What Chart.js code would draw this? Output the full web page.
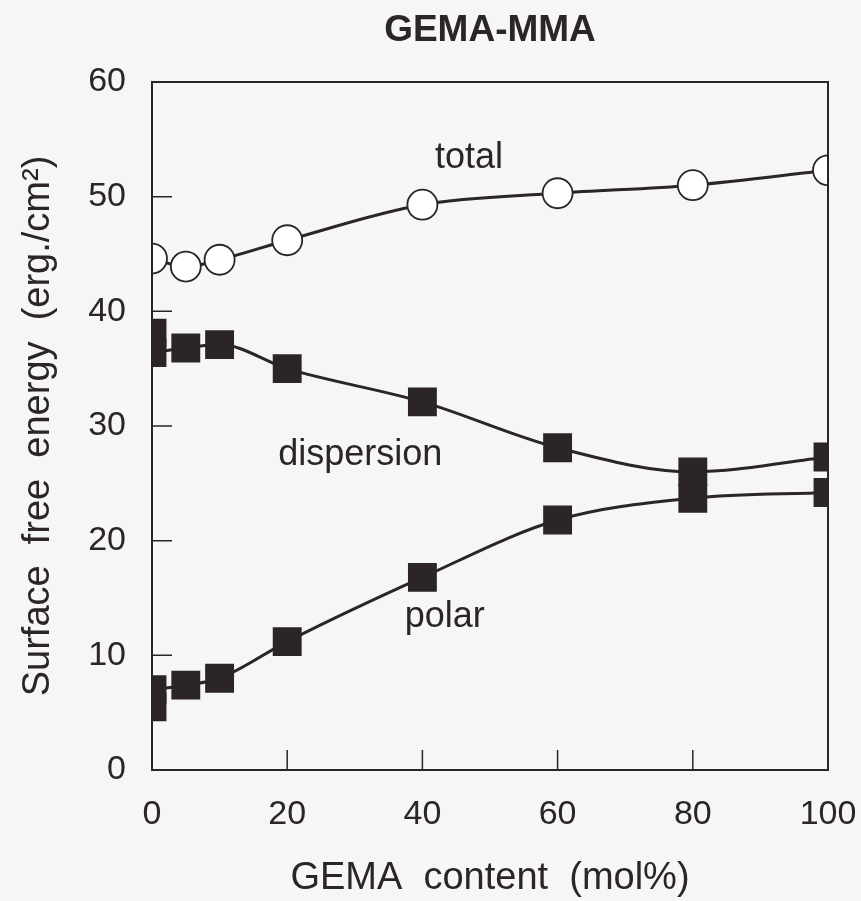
<!DOCTYPE html>
<html>
<head>
<meta charset="utf-8">
<script src="https://cdn.jsdelivr.net/npm/chart.js@4/dist/chart.umd.min.js"></script>
<style>
  html, body { margin: 0; padding: 0; background: #f6f5f7; }
  canvas { display: block; }
</style>
</head>
<body>
<canvas id="surfaceChart" width="861" height="901"></canvas>
<script>
// --- data ---
const gemaContent = [0, 5, 10, 20, 40, 60, 80, 100];
const totalEnergy = [44.6, 43.9, 44.5, 46.2, 49.3, 50.3, 51.0, 52.3];
const dispersionEnergy = [36.4, 36.8, 37.1, 35.0, 32.1, 28.1, 26.0, 27.3];
const polarEnergy = [7.0, 7.4, 8.0, 11.2, 16.8, 21.8, 23.7, 24.2];

// repeated measurements at 0 mol%
const extraX = [0];
const extraDispersion = [38.1];
const extraPolar = [5.5];

const xTicks = [0, 20, 40, 60, 80, 100];
const yTicks = [0, 10, 20, 30, 40, 50, 60];

const seriesLabels = ["total", "dispersion", "polar"];
const labelX = [46.9, 30.8, 43.3];
const labelY = [53.4, 27.5, 13.3];

const INK = "#2b2428";
const FONT = "'Liberation Sans', Arial, Helvetica, sans-serif";

const pts = (xs, ys) => xs.map((x, i) => ({ x, y: ys[i] }));

// === frame, inward ticks and curve labels ===
const framePlugin = {
  id: "frame",
  afterDatasetsDraw(chart) {
    const { ctx, chartArea: a, scales } = chart;
    ctx.save();
    ctx.strokeStyle = INK;
    ctx.lineWidth = 2;
    ctx.strokeRect(a.left, a.top, a.right - a.left, a.bottom - a.top);

    ctx.lineWidth = 1.5;
    ctx.beginPath();
    yTicks.slice(1, -1).forEach((v) => {
      const y = scales.y.getPixelForValue(v);
      ctx.moveTo(a.left, y);
      ctx.lineTo(a.left + 20, y);
    });
    xTicks.slice(1, -1).forEach((v) => {
      const x = scales.x.getPixelForValue(v);
      ctx.moveTo(x, a.bottom);
      ctx.lineTo(x, a.bottom - 20);
    });
    ctx.stroke();

    ctx.fillStyle = INK;
    ctx.font = "36px " + FONT;
    ctx.textAlign = "center";
    ctx.textBaseline = "middle";
    seriesLabels.forEach((t, i) => {
      ctx.fillText(t, scales.x.getPixelForValue(labelX[i]), scales.y.getPixelForValue(labelY[i]));
    });
    ctx.restore();
  },
};

const lineStyle = {
  borderColor: INK,
  borderWidth: 3,
  cubicInterpolationMode: "monotone",
  pointBorderColor: INK,
  pointBorderWidth: 2,
};

new Chart(document.getElementById("surfaceChart"), {
  type: "scatter",
  data: {
    datasets: [
      {
        ...lineStyle,
        label: "dispersion",
        data: pts(gemaContent, dispersionEnergy),
        showLine: true,
        pointStyle: "rect",
        pointRadius: 19,
        pointBackgroundColor: INK,
      },
      {
        ...lineStyle,
        label: "dispersion (repeat)",
        data: pts(extraX, extraDispersion),
        showLine: false,
        pointStyle: "rect",
        pointRadius: 19,
        pointBackgroundColor: INK,
      },
      {
        ...lineStyle,
        label: "polar",
        data: pts(gemaContent, polarEnergy),
        showLine: true,
        pointStyle: "rect",
        pointRadius: 19,
        pointBackgroundColor: INK,
      },
      {
        ...lineStyle,
        label: "polar (repeat)",
        data: pts(extraX, extraPolar),
        showLine: false,
        pointStyle: "rect",
        pointRadius: 19,
        pointBackgroundColor: INK,
      },
      {
        ...lineStyle,
        label: "total",
        data: pts(gemaContent, totalEnergy),
        showLine: true,
        pointStyle: "circle",
        pointRadius: 15,
        pointBorderWidth: 1.8,
        pointBackgroundColor: "#ffffff",
      },
    ],
  },
  options: {
    responsive: false,
    animation: false,
    layout: { padding: { top: 82, right: 33, bottom: 0, left: 0 } },
    plugins: {
      legend: { display: false },
      tooltip: { enabled: false },
      title: { display: false },
    },
    scales: {
      x: {
        type: "linear",
        min: 0,
        max: 100,
        afterFit: (s) => { s.height = 131; s.paddingLeft = 0; s.paddingRight = 0; },
        afterBuildTicks: (s) => { s.ticks = xTicks.map((v) => ({ value: v })); },
        grid: { display: false },
        border: { display: false },
        ticks: { color: INK, padding: 16, maxRotation: 0, font: { family: FONT, size: 34 } },
        title: {
          display: true,
          text: "GEMA  content  (mol%)",
          color: INK,
          font: { family: FONT, size: 38 },
          padding: { top: 0, bottom: 0 },
        },
      },
      y: {
        min: 0,
        max: 60,
        afterFit: (s) => { s.width = 152; s.paddingTop = 0; s.paddingBottom = 0; },
        afterBuildTicks: (s) => { s.ticks = yTicks.map((v) => ({ value: v })); },
        grid: { display: false },
        border: { display: false },
        ticks: { color: INK, padding: 18, font: { family: FONT, size: 34 } },
        title: {
          display: true,
          text: "Surface  free  energy  (erg./cm²)",
          color: INK,
          font: { family: FONT, size: 38 },
          padding: { top: 16, bottom: 0 },
        },
      },
    },
  },
  plugins: [
    framePlugin,
    {
      id: "topTitle",
      afterDraw(chart) {
        const { ctx, chartArea: a } = chart;
        ctx.save();
        ctx.fillStyle = INK;
        ctx.font = "bold 37px " + FONT;
        ctx.textAlign = "center";
        ctx.textBaseline = "middle";
        ctx.fillText("GEMA-MMA", (a.left + a.right) / 2, 31);
        ctx.restore();
      },
    },
  ],
});
</script>
</body>
</html>
